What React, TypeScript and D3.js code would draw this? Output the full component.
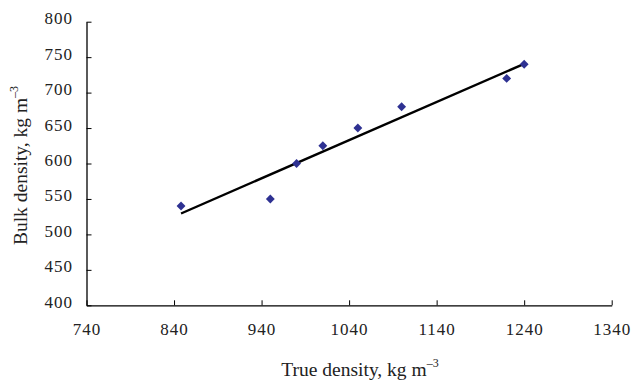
import { useRef, useEffect } from "react";
import * as d3 from "d3";

const trueDensity = [848, 950, 980, 1010, 1050, 1100, 1220, 1240];
const bulkDensity = [540, 550, 600, 625, 650, 680, 720, 740];
const xTicks = [740, 840, 940, 1040, 1140, 1240, 1340];
const yTicks = [400, 450, 500, 550, 600, 650, 700, 750, 800];

const App = () => {
  const svgRef = useRef<SVGSVGElement>(null);

  useEffect(() => {
    const svg = d3.select(svgRef.current);
    svg.selectAll("*").remove();

    const left = 86.5;
    const right = 611.7;
    const top = 21.7;
    const bottom = 305.3;

    const x = d3.scaleLinear().domain([740, 1340]).range([left, right]);
    const y = d3.scaleLinear().domain([400, 800]).range([bottom, top]);

    const font = "'Liberation Serif', 'Times New Roman', serif";

    // y axis, ticks pointing inward
    const yAxis = svg
      .append("g")
      .attr("transform", `translate(${left},0)`)
      .call(d3.axisRight(y).tickValues(yTicks).tickSize(5).tickSizeOuter(0).tickFormat(() => ""));
    yAxis.select(".domain").attr("stroke", "#000").attr("stroke-width", 1.3);
    yAxis.selectAll(".tick line").attr("stroke", "#000");

    svg
      .append("g")
      .selectAll("text")
      .data(yTicks)
      .join("text")
      .attr("x", 73)
      .attr("y", (d) => y(d) + 2.5)
      .attr("text-anchor", "end")
      .attr("font-family", font)
      .attr("font-size", 17)
      .attr("letter-spacing", 1)
      .attr("fill", "#222")
      .text((d) => d);

    // x axis, ticks pointing up
    const xAxis = svg
      .append("g")
      .attr("transform", `translate(0,${bottom})`)
      .call(d3.axisTop(x).tickValues(xTicks).tickSize(5).tickSizeOuter(0).tickFormat(() => ""));
    xAxis.select(".domain").attr("stroke", "#000").attr("stroke-width", 1.3);
    xAxis.selectAll(".tick line").attr("stroke", "#000");

    svg
      .append("g")
      .selectAll("text")
      .data(xTicks)
      .join("text")
      .attr("x", (d) => x(d) + 0.5)
      .attr("y", bottom + 30)
      .attr("text-anchor", "middle")
      .attr("font-family", font)
      .attr("font-size", 17)
      .attr("letter-spacing", 1)
      .attr("fill", "#222")
      .text((d) => d);

    // linear trend line (least squares)
    const pts = trueDensity.map((v, i) => [v, bulkDensity[i]] as [number, number]);
    const mx = d3.mean(trueDensity)!;
    const my = d3.mean(bulkDensity)!;
    const sxy = d3.sum(pts, (p) => (p[0] - mx) * (p[1] - my));
    const sxx = d3.sum(pts, (p) => (p[0] - mx) ** 2);
    const slope = sxy / sxx;
    const icpt = my - slope * mx;
    const [x0, x1] = d3.extent(trueDensity) as [number, number];

    svg
      .append("path")
      .attr("d", d3.line()([[x(x0), y(slope * x0 + icpt)], [x(x1), y(slope * x1 + icpt)]]))
      .attr("stroke", "#000")
      .attr("stroke-width", 2.4)
      .attr("fill", "none");

    svg
      .append("g")
      .selectAll("path")
      .data(pts)
      .join("path")
      .attr("transform", (d) => `translate(${x(d[0])},${y(d[1])})`)
      .attr("d", d3.symbol(d3.symbolDiamond2, 50)())
      .attr("fill", "#2e3192");

    // axis titles
    const xt = svg
      .append("text")
      .attr("x", 360)
      .attr("y", 376)
      .attr("text-anchor", "middle")
      .attr("font-family", font)
      .attr("font-size", 19.5)
      .attr("fill", "#222");
    xt.append("tspan").text("True density, kg m");
    xt.append("tspan").attr("dy", -9).attr("font-size", 12).text("\u20133");

    const yt = svg
      .append("text")
      .attr("transform", `translate(26.5,165.5) rotate(-90)`)
      .attr("text-anchor", "middle")
      .attr("font-family", font)
      .attr("font-size", 19.5)
      .attr("fill", "#222");
    yt.append("tspan").text("Bulk density, kg m");
    yt.append("tspan").attr("dy", -9).attr("font-size", 12).text("\u20133");
  }, []);

  return (
    <svg
      ref={svgRef}
      width={631}
      height={380}
      style={{ position: "absolute", left: 0, top: 0, background: "#fff" }}
    />
  );
};

export default App;
